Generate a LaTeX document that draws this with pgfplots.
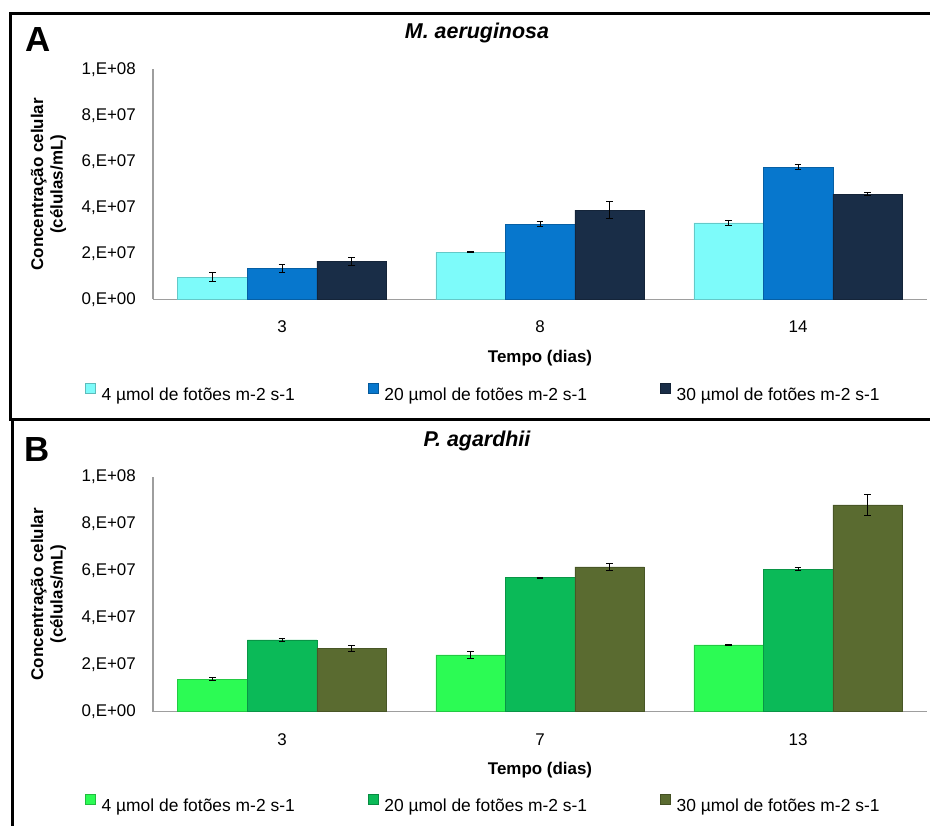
\documentclass[border=0pt]{standalone}
\usepackage{fontspec}
\setmainfont{Liberation Sans}
\usepackage{pgfplots}
\pgfplotsset{compat=1.18}

\definecolor{aone}{HTML}{7DFBFA}
\definecolor{atwo}{HTML}{0777CD}
\definecolor{athree}{HTML}{192D47}
\definecolor{bone}{HTML}{2CFB54}
\definecolor{btwo}{HTML}{0BBA58}
\definecolor{bthree}{HTML}{5A6B30}

\pgfplotsset{
  panel/.style={
    scale only axis, width=774bp,
    xmin=-0.5, xmax=2.5, ymin=0, ymax=1e8,
    axis lines=left,
    axis line style={-, draw=black!38, line width=1.2bp},
    major tick length=0pt,
    ybar=0pt, bar width=69.5bp,
    scaled y ticks=false,
    ytick={0,2e7,4e7,6e7,8e7,1e8},
    yticklabels={{0,E+00},{2,E+07},{4,E+07},{6,E+07},{8,E+07},{1,E+08}},
    xtick={0,1,2},
    /pgf/number format/assume math mode=true,
    yticklabel style={anchor=east, inner sep=0pt, xshift=-17bp, font=\fontsize{17}{20}\selectfont},
    xticklabel style={anchor=base, inner sep=0pt, yshift=-33.5bp, font=\fontsize{17}{20}\selectfont},
    ylabel={Concentração celular\\(células/mL)},
    ylabel style={at={(axis description cs:-0.135,0.5)}, anchor=center, align=center, inner sep=0pt, font=\bfseries\fontsize{17}{19.5}\selectfont},
    xlabel={Tempo (dias)},
    xlabel style={at={(axis description cs:0.5,0)}, anchor=center, yshift=-58.5bp, inner sep=0pt, font=\bfseries\fontsize{17}{20}\selectfont},
    title style={anchor=base, inner sep=0pt, font=\bfseries\itshape\fontsize{21.5}{24}\selectfont},
    legend columns=3,
    legend style={draw=none, fill=none, inner sep=0pt, anchor=west,
      font=\fontsize{17.5}{20}\selectfont,
      /tikz/every odd column/.append style={column sep=4bp},
      /tikz/every even column/.append style={column sep=71bp}},
    error bars/y dir=both, error bars/y explicit,
    error bars/error bar style={line width=0.8bp, black},
    error bars/error mark options={rotate=90, mark size=3.3bp, line width=0.8bp, black},
  }
}

\begin{document}
\begin{tikzpicture}
\path[use as bounding box] (0bp,0bp) rectangle (930bp,826bp);

% panel frames
\draw[line width=3bp] (930bp,812.2bp) -- (10.8bp,812.2bp) -- (10.8bp,406bp) -- (930bp,406bp);
\draw[line width=3bp] (12.5bp,406bp) -- (12.5bp,0bp);
\node[anchor=base west, inner sep=0pt, font=\bfseries\fontsize{35}{35}\selectfont] at (25.5bp,774.3bp) {A};
\node[anchor=base west, inner sep=0pt, font=\bfseries\fontsize{35}{35}\selectfont] at (24.5bp,364.3bp) {B};

% Panel A
\begin{axis}[panel, at={(153bp,526.7bp)}, anchor=south west, height=230bp,
  xticklabels={3,8,14},
  title={M. aeruginosa},
  title style={at={(axis description cs:0.4186,1.11)}},
  legend style={at={(axis description cs:-0.0879,-0.41)}}]
\addplot[fill=aone, draw=aone!80!black, line width=0.5bp,
  legend image code/.code={\filldraw[fill=aone, draw=aone!75!black, line width=0.5bp] (0bp,1.5bp) rectangle (10bp,11.5bp);}]
  coordinates {(0,9.6e6) +- (0,2.0e6) (1,2.05e7) +- (0,2e5) (2,3.32e7) +- (0,1.1e6)};
\addplot[fill=atwo, draw=atwo!80!black, line width=0.5bp,
  legend image code/.code={\filldraw[fill=atwo, draw=atwo!75!black, line width=0.5bp] (0bp,1.5bp) rectangle (10bp,11.5bp);}]
  coordinates {(0,1.35e7) +- (0,1.8e6) (1,3.27e7) +- (0,1.0e6) (2,5.75e7) +- (0,1.0e6)};
\addplot[fill=athree, draw=athree!80!black, line width=0.5bp,
  legend image code/.code={\filldraw[fill=athree, draw=athree!75!black, line width=0.5bp] (0bp,1.5bp) rectangle (10bp,11.5bp);}]
  coordinates {(0,1.66e7) +- (0,1.8e6) (1,3.88e7) +- (0,3.6e6) (2,4.57e7) +- (0,7e5)};
\legend{4 µmol de fotões m-2 s-1, 20 µmol de fotões m-2 s-1, 30 µmol de fotões m-2 s-1}
\end{axis}

% Panel B
\begin{axis}[panel, at={(153bp,114.3bp)}, anchor=south west, height=235bp,
  xticklabels={3,7,13},
  title={P. agardhii},
  title style={at={(axis description cs:0.4186,1.102)}},
  legend style={at={(axis description cs:-0.0879,-0.394)}}]
\addplot[fill=bone, draw=bone!80!black, line width=0.5bp,
  legend image code/.code={\filldraw[fill=bone, draw=bone!75!black, line width=0.5bp] (0bp,1.5bp) rectangle (10bp,11.5bp);}]
  coordinates {(0,1.38e7) +- (0,6e5) (1,2.42e7) +- (0,1.4e6) (2,2.84e7) +- (0,2e5)};
\addplot[fill=btwo, draw=btwo!80!black, line width=0.5bp,
  legend image code/.code={\filldraw[fill=btwo, draw=btwo!75!black, line width=0.5bp] (0bp,1.5bp) rectangle (10bp,11.5bp);}]
  coordinates {(0,3.06e7) +- (0,8e5) (1,5.71e7) +- (0,2e5) (2,6.06e7) +- (0,6e5)};
\addplot[fill=bthree, draw=bthree!80!black, line width=0.5bp,
  legend image code/.code={\filldraw[fill=bthree, draw=bthree!75!black, line width=0.5bp] (0bp,1.5bp) rectangle (10bp,11.5bp);}]
  coordinates {(0,2.68e7) +- (0,1.2e6) (1,6.16e7) +- (0,1.4e6) (2,8.8e7) +- (0,4.6e6)};
\legend{4 µmol de fotões m-2 s-1, 20 µmol de fotões m-2 s-1, 30 µmol de fotões m-2 s-1}
\end{axis}
\end{tikzpicture}
\end{document}
